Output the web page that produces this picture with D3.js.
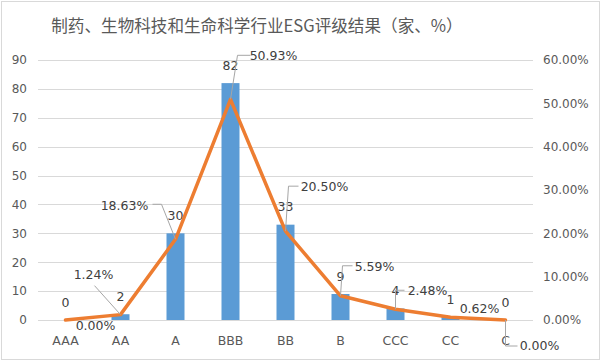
<!DOCTYPE html>
<html><head><meta charset="utf-8">
<script src="https://cdn.jsdelivr.net/npm/d3@7"></script>
<style>body{margin:0;background:#fff}svg{display:block}</style>
</head><body>
<svg id="c" width="602" height="362"></svg>
<script>
const title = "制药、生物科技和生命科学行业ESG评级结果（家、%）";
const categories = ["AAA","AA","A","BBB","BB","B","CCC","CC","C"];
const counts = [0,2,30,82,33,9,4,1,0];
const percents = [0.00,1.24,18.63,50.93,20.50,5.59,2.48,0.62,0.00];
const leftTicks = [0,10,20,30,40,50,60,70,80,90];
const rightTicks = [0,10,20,30,40,50,60];

// label placement offsets (relative to line point): text center dx, baseline dy, leader path
const pctLabelCfg = [
  {dx:30, dy:10, leader:null},
  {dx:-27, dy:-36, leader:[[-26,-29],[0,0]]},
  {dx:-51, dy:-29, leader:[[-23,-35],[-14,-35],[0,0]]},
  {dx:43, dy:-39, leader:[[20,-44],[7,-44],[0,0]]},
  {dx:39, dy:-40, leader:[[13,-45],[3,-45],[0,0]]},
  {dx:34, dy:-25, leader:[[12,-30],[2,-30],[0,0]]},
  {dx:32, dy:-14, leader:[[9,-19],[0,-19],[0,0]]},
  {dx:29, dy:-4, leader:null},
  {dx:34, dy:30, leader:[[0,0],[0,26],[12,26]]}
];

const svg = d3.select("#c");
const L = 38, R = 533, T = 60, B = 320;
const x = d3.scaleBand().domain(categories).range([L,R]).padding(0);
const yL = d3.scaleLinear().domain([0,90]).range([B,T]);
const yR = d3.scaleLinear().domain([0,60]).range([B,T]);
const cx = c => x(c) + x.bandwidth()/2;
const font = "'DejaVu Sans', sans-serif";

svg.append("rect").attr("x",1.5).attr("y",1.5).attr("width",598).attr("height",358)
  .attr("fill","#fff").attr("stroke","#d9d9d9");

svg.append("text").attr("x",257).attr("y",32).attr("text-anchor","middle")
  .attr("font-family","'Noto Sans CJK SC', sans-serif").attr("font-size",16.6)
  .attr("fill","#595959").text(title);

// gridlines
svg.append("g").selectAll("line").data(leftTicks).join("line")
  .attr("x1",L).attr("x2",R).attr("y1",d=>Math.round(yL(d))+0.5).attr("y2",d=>Math.round(yL(d))+0.5)
  .attr("stroke","#d9d9d9").attr("stroke-width",1);

// left axis
const gl = svg.append("g").attr("transform",`translate(${L},0)`)
  .call(d3.axisLeft(yL).tickValues(leftTicks).tickSize(0).tickPadding(11));
gl.select(".domain").remove();
gl.selectAll("text").attr("font-family",font).attr("font-size",12).attr("fill","#595959");

// right axis
const gr = svg.append("g").attr("transform",`translate(${R},0)`)
  .call(d3.axisRight(yR).tickValues(rightTicks).tickSize(0).tickPadding(10).tickFormat(d=>d.toFixed(2)+"%"));
gr.select(".domain").remove();
gr.selectAll("text").attr("font-family",font).attr("font-size",12).attr("fill","#595959");

// x axis
const gx = svg.append("g").attr("transform",`translate(0,${B})`)
  .call(d3.axisBottom(x).tickSize(0).tickPadding(16));
gx.select(".domain").remove();
gx.selectAll("text").attr("font-family",font).attr("font-size",12.5).attr("fill","#595959");

// bars
const bw = 18;
svg.append("g").selectAll("rect").data(categories).join("rect")
  .attr("x",(c)=>cx(c)-bw/2).attr("width",bw)
  .attr("y",(c,i)=>yL(counts[i])).attr("height",(c,i)=>B-yL(counts[i]))
  .attr("fill","#5b9bd5");

// bar labels
svg.append("g").selectAll("text").data(categories).join("text")
  .attr("x",c=>cx(c)).attr("y",(c,i)=>yL(counts[i])-13.5).attr("text-anchor","middle")
  .attr("font-family",font).attr("font-size",12.5).attr("fill","#404040")
  .text((c,i)=>counts[i]);

// line
const line = d3.line().x((d,i)=>cx(categories[i])).y(d=>yR(d));
svg.append("path").datum(percents).attr("d",line).attr("fill","none")
  .attr("stroke","#ed7d31").attr("stroke-width",3.5).attr("stroke-linejoin","round").attr("stroke-linecap","round");

// leaders
const lg = svg.append("g");
percents.forEach((p,i)=>{
  const px = cx(categories[i]), py = yR(p), cfg = pctLabelCfg[i];
  if (cfg.leader) {
    lg.append("path").attr("d", d3.line()(cfg.leader.map(q=>[px+q[0],py+q[1]])))
      .attr("fill","none").attr("stroke","#a6a6a6").attr("stroke-width",1);
  }
  lg.append("text").attr("x",px+cfg.dx).attr("y",py+cfg.dy).attr("text-anchor","middle")
    .attr("font-family",font).attr("font-size",12.5).attr("fill","#404040")
    .text(p.toFixed(2)+"%");
});
</script>
</body></html>
